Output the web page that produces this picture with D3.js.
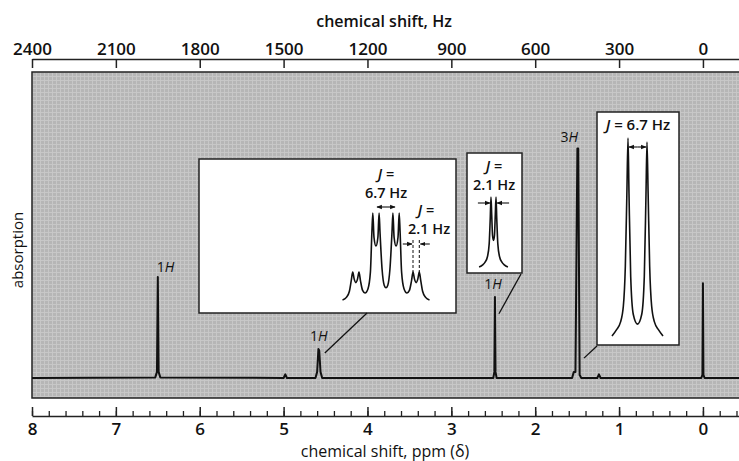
<!DOCTYPE html>
<html>
<head>
<meta charset="utf-8">
<script src="https://cdn.jsdelivr.net/npm/d3@7"></script>
<style>
  body { margin: 0; background: #fff; }
  text { font-family: "Open Sans", "DejaVu Sans", sans-serif; fill: #111; }
</style>
</head>
<body>
<div id="chart"></div>
<script>
// main spectrum, [ppm, absorption]
var spectrum = [
  [8.0, 0], [6.53, 0.002], [6.51, 0.02], [6.50, 0.33], [6.49, 0.02], [6.47, 0.002],
  [5.00, 0], [4.98, 0.012], [4.96, 0],
  [4.62, 0], [4.60, 0.02], [4.585, 0.095], [4.575, 0.09], [4.56, 0.02], [4.54, 0],
  [2.50, 0], [2.487, 0.02], [2.48, 0.265], [2.473, 0.02], [2.46, 0],
  [1.56, 0], [1.54, 0.02], [1.52, 0.02], [1.497, 0.75], [1.487, 0.75], [1.47, 0.01], [1.45, 0],
  [1.26, 0], [1.24, 0.012], [1.22, 0],
  [0.02, 0], [0.006, 0.01], [0, 0.31], [-0.006, 0.01], [-0.02, 0], [-0.43, 0]
];

// integration labels
var peakLabels = [
  {ppm: 6.50, h: 0.33, n: "1", anchor: "start", dx: -1, dy: -5},
  {ppm: 4.58, h: 0.095, n: "1", anchor: "middle", dx: 0, dy: -8},
  {ppm: 2.48, h: 0.265, n: "1", anchor: "middle", dx: -2, dy: -8},
  {ppm: 1.49, h: 0.75, n: "3", anchor: "end", dx: 0, dy: -7}
];

var ppmTicks = [8, 7, 6, 5, 4, 3, 2, 1, 0];
var hzTicks = [2400, 2100, 1800, 1500, 1200, 900, 600, 300, 0];
var mhz = 300;

// expanded multiplet at 4.58 ppm, [Hz from centre, intensity]
var multipletA = [
  [-14.5, 0], [-13.2, 0.03], [-12.2, 0.1], [-11.6, 0.22], [-11.1, 0.32], [-10.6, 0.24],
  [-10.05, 0.2], [-9.5, 0.24], [-9.0, 0.32], [-8.5, 0.22], [-7.8, 0.11], [-7.0, 0.08],
  [-6.0, 0.13], [-5.2, 0.32], [-4.7, 0.78], [-4.4, 1.0], [-4.0, 0.72], [-3.35, 0.62],
  [-2.7, 0.72], [-2.3, 1.0], [-2.0, 0.78], [-1.3, 0.35], [-0.6, 0.17], [0, 0.14],
  [0.6, 0.17], [1.3, 0.35], [2.0, 0.78], [2.3, 1.0], [2.7, 0.72], [3.35, 0.62],
  [4.0, 0.72], [4.4, 1.0], [4.7, 0.78], [5.2, 0.32], [6.0, 0.13], [7.0, 0.08],
  [7.8, 0.11], [8.5, 0.22], [9.0, 0.32], [9.5, 0.24], [10.05, 0.2], [10.6, 0.24],
  [11.1, 0.32], [11.6, 0.22], [12.2, 0.1], [13.2, 0.03], [14.5, 0]
];
// expanded doublet at 2.48 ppm
var doubletB = [
  [-6, 0], [-4.5, 0.03], [-3.5, 0.07], [-2.5, 0.15], [-1.8, 0.33], [-1.35, 0.7],
  [-1.05, 1.0], [-0.75, 0.75], [-0.4, 0.45], [0, 0.38], [0.4, 0.45], [0.75, 0.75],
  [1.05, 1.0], [1.35, 0.7], [1.8, 0.33], [2.5, 0.15], [3.5, 0.07], [4.5, 0.03], [6, 0]
];
// expanded doublet at 1.49 ppm
var doubletC = [
  [-9, 0], [-7.5, 0.03], [-6, 0.07], [-5, 0.15], [-4.3, 0.35], [-3.75, 0.72],
  [-3.35, 1.0], [-3.0, 0.72], [-2.4, 0.3], [-1.5, 0.11], [0, 0.06], [1.5, 0.11],
  [2.4, 0.3], [3.0, 0.72], [3.35, 0.98], [3.75, 0.72], [4.3, 0.35], [5, 0.15],
  [6, 0.07], [7.5, 0.03], [9, 0]
];

var width = 739, height = 461;
var plot = {left: 32, right: 745, top: 72, bottom: 398};

var svg = d3.select("#chart").append("svg")
    .attr("width", width)
    .attr("height", height);

var defs = svg.append("defs");
var pat = defs.append("pattern")
    .attr("id", "paper")
    .attr("width", 4).attr("height", 4)
    .attr("patternUnits", "userSpaceOnUse");
pat.append("rect").attr("width", 4).attr("height", 4).attr("fill", "#b6b6b6");
pat.append("path").attr("d", "M0,0.5H4M0.5,0V4")
    .attr("stroke", "#c8c8c8").attr("stroke-width", 0.9);

defs.append("marker")
    .attr("id", "head")
    .attr("viewBox", "0 0 10 10")
    .attr("refX", 9).attr("refY", 5)
    .attr("markerWidth", 5).attr("markerHeight", 5)
    .attr("orient", "auto-start-reverse")
  .append("path")
    .attr("d", "M0,1L10,5L0,9Z")
    .attr("fill", "#111");

var x = d3.scaleLinear().domain([8, -0.43]).range([32, 739]);
var xHz = d3.scaleLinear().domain([8 * mhz, -0.43 * mhz]).range([32, 739]);
var y = d3.scaleLinear().domain([0, 1]).range([378, 72]);

// chart paper
svg.append("rect")
    .attr("x", plot.left).attr("y", plot.top)
    .attr("width", plot.right - plot.left)
    .attr("height", plot.bottom - plot.top)
    .attr("fill", "url(#paper)")
    .attr("stroke", "#222").attr("stroke-width", 1.5);

// top axis in Hz
var topAxis = svg.append("g")
    .attr("transform", "translate(0,59)")
    .call(d3.axisTop(xHz).tickValues(hzTicks).tickFormat(d3.format("d"))
        .tickSizeInner(-9).tickSizeOuter(0).tickPadding(4));
topAxis.select(".domain").attr("stroke-width", 1.5).attr("stroke", "#222");
topAxis.selectAll(".tick line").attr("stroke-width", 1.5).attr("stroke", "#222");
topAxis.selectAll(".tick text")
    .style("font-size", "17px").style("font-weight", 600).attr("fill", "#111");

// bottom axis in ppm, minor ticks first
var minor = svg.append("g")
    .attr("transform", "translate(0,416)")
    .call(d3.axisBottom(x).ticks(42).tickSizeInner(-5).tickSizeOuter(0).tickFormat(""));
minor.select(".domain").attr("stroke-width", 1.5).attr("stroke", "#222");
minor.selectAll(".tick line").attr("stroke-width", 1.3).attr("stroke", "#222");

var botAxis = svg.append("g")
    .attr("transform", "translate(0,416)")
    .call(d3.axisBottom(x).tickValues(ppmTicks).tickSizeInner(-9).tickSizeOuter(0).tickPadding(7));
botAxis.select(".domain").remove();
botAxis.selectAll(".tick line").attr("stroke-width", 1.5).attr("stroke", "#222");
botAxis.selectAll(".tick text")
    .style("font-size", "17px").style("font-weight", 600).attr("fill", "#111");

// axis titles
svg.append("text")
    .attr("x", 384).attr("y", 27)
    .attr("text-anchor", "middle")
    .style("font-size", "16px").style("font-weight", 600)
    .text("chemical shift, Hz");

svg.append("text")
    .attr("x", 385).attr("y", 457)
    .attr("text-anchor", "middle")
    .style("font-size", "16px")
    .text("chemical shift, ppm (δ)");

svg.append("text")
    .attr("transform", "translate(23,250) rotate(-90)")
    .attr("text-anchor", "middle")
    .style("font-size", "15px")
    .text("absorption");

// the trace
var line = d3.line()
    .x(function (d) { return x(d[0]); })
    .y(function (d) { return y(d[1]); });

svg.append("path")
    .datum(spectrum)
    .attr("d", line)
    .attr("fill", "none")
    .attr("stroke", "#111")
    .attr("stroke-width", 2)
    .attr("stroke-linejoin", "round");

var labels = svg.selectAll(".plabel")
    .data(peakLabels)
  .enter().append("text")
    .attr("class", "plabel")
    .attr("x", function (d) { return x(d.ppm) + d.dx; })
    .attr("y", function (d) { return y(d.h) + d.dy; })
    .attr("text-anchor", function (d) { return d.anchor; })
    .style("font-size", "14px");
labels.append("tspan").text(function (d) { return d.n; });
labels.append("tspan").style("font-style", "italic").text("H");

// helper to draw an inset box with an expanded trace
function inset(box, data, xs, ys) {
    var g = svg.append("g");
    g.append("rect")
        .attr("x", box.x).attr("y", box.y)
        .attr("width", box.w).attr("height", box.h)
        .attr("fill", "#fff")
        .attr("stroke", "#222").attr("stroke-width", 1.5);
    g.append("path")
        .datum(data)
        .attr("d", d3.line()
            .x(function (d) { return xs(d[0]); })
            .y(function (d) { return ys(d[1]); })
            .curve(d3.curveMonotoneX))
        .attr("fill", "none")
        .attr("stroke", "#111")
        .attr("stroke-width", 1.6);
    return g;
}

function arrow(g, x1, y1, x2, y2) {
    g.append("line")
        .attr("x1", x1).attr("y1", y1).attr("x2", x2).attr("y2", y2)
        .attr("stroke", "#111").attr("stroke-width", 1.1)
        .attr("marker-end", "url(#head)");
}

function jText(g, cx, yy, parts, size) {
    var t = g.append("text")
        .attr("x", cx).attr("y", yy)
        .attr("text-anchor", "middle")
        .style("font-size", size + "px")
        .style("font-weight", 600);
    parts.forEach(function (p) {
        t.append("tspan").style("font-style", p[1] ? "italic" : null).text(p[0]);
    });
}

function pointer(x1, y1, ppm, h, dx, dy) {
    svg.append("line")
        .attr("x1", x1).attr("y1", y1)
        .attr("x2", x(ppm) + dx).attr("y2", y(h) + dy)
        .attr("stroke", "#111").attr("stroke-width", 1.3);
}

// inset A: multiplet
var boxA = {x: 199, y: 159, w: 257, h: 154};
var xA = d3.scaleLinear().domain([-15, 15]).range([341, 431]);
var yA = d3.scaleLinear().domain([0, 1]).range([300, 213]);
var gA = inset(boxA, multipletA, xA, yA);
jText(gA, xA(0), 179, [["J", true], [" =", false]], 14.5);
jText(gA, xA(0), 198, [["6.7 Hz", false]], 14.5);
arrow(gA, xA(0), 207, xA(-3.35) + 1, 207);
arrow(gA, xA(0), 207, xA(3.35) - 1, 207);
jText(gA, 426, 215, [["J", true], [" =", false]], 14.5);
jText(gA, 429, 234, [["2.1 Hz", false]], 14.5);
arrow(gA, xA(5.6), 244, xA(9.0) - 1, 244);
arrow(gA, xA(14.6), 244, xA(11.1) + 1, 244);
[9.0, 11.1].forEach(function (v) {
    gA.append("line")
        .attr("x1", xA(v)).attr("x2", xA(v))
        .attr("y1", 240).attr("y2", yA(0.32))
        .attr("stroke", "#111").attr("stroke-width", 1)
        .attr("stroke-dasharray", "3,2");
});
pointer(367, boxA.y + boxA.h, 4.58, 0.095, 6, 4);

// inset B: doublet at 2.48
var boxB = {x: 467, y: 153, w: 55, h: 120};
var xB = d3.scaleLinear().domain([-6, 6]).range([479.1, 507.9]);
var yB = d3.scaleLinear().domain([0, 1]).range([267, 197]);
var gB = inset(boxB, doubletB, xB, yB);
jText(gB, 494, 171, [["J", true], [" =", false]], 14.5);
jText(gB, 494, 190, [["2.1 Hz", false]], 14.5);
arrow(gB, xB(-6.5), 203, xB(-1.5), 203);
arrow(gB, xB(6.5), 203, xB(1.5), 203);
pointer(521, boxB.y + boxB.h + 1, 2.48, 0.21, 4, 0);

// inset C: doublet at 1.49
var boxC = {x: 597, y: 112, w: 82, h: 233};
var xC = d3.scaleLinear().domain([-9, 9]).range([612, 663]);
var yC = d3.scaleLinear().domain([0, 1]).range([336, 138]);
var gC = inset(boxC, doubletC, xC, yC);
jText(gC, 638, 130, [["J", true], [" = 6.7 Hz", false]], 15);
arrow(gC, xC(0), 147, xC(-3.35) + 1, 147);
arrow(gC, xC(0), 147, xC(3.35) - 1, 147);
pointer(boxC.x, boxC.y + boxC.h + 1, 1.49, 0.065, 6, 0);
</script>
</body>
</html>
